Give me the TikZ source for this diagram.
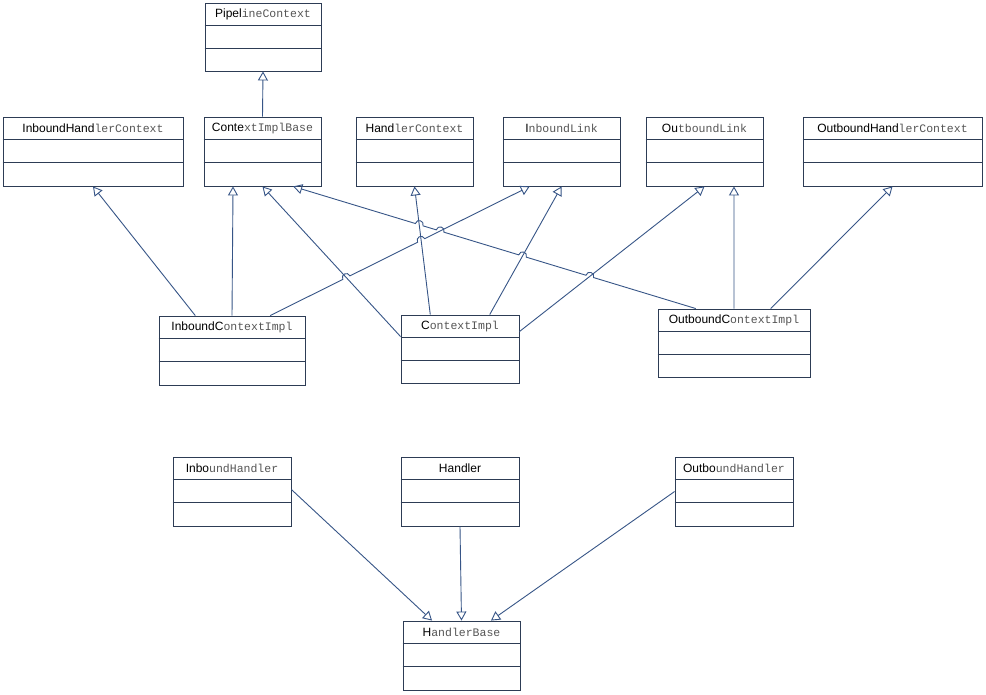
\documentclass[tikz,border=0pt]{standalone}
\usepackage{fontspec}
\newfontfamily\sa{Liberation Sans}
\newfontfamily\mo{Liberation Mono}
\usetikzlibrary{arrows.meta,calc,intersections}
\definecolor{boxc}{RGB}{45,60,85}
\definecolor{conn}{RGB}{55,85,135}
\definecolor{monoc}{RGB}{85,85,85}
\newcommand\ttl[2]{{\sa\fontsize{12}{14}\selectfont #1}{\mo\fontsize{11.5}{14}\selectfont\color{monoc}#2}}
% name, cx, cy, w, h, title
\newcommand\umlclass[6]{%
  \node[cls, minimum width=#4pt, minimum height=#5pt] (#1) at (#2,#3) {};
  \draw[clsline] ($(#1.north west)+(0,22.5)$) -- ($(#1.north east)+(0,22.5)$);
  \draw[clsline] ($(#1.north west)+(0,45.5)$) -- ($(#1.north east)+(0,45.5)$);
  \node[ttlnode] at ($(#1.north)+(0,11.5)$) {#6};
}
% intersection name, from, to
\newcommand\hopat[3]{%
  \coordinate (#1s) at ($(#1)!4pt!(#2)$);
  \coordinate (#1e) at ($(#1)!4pt!(#3)$);
  \coordinate (#1c) at ($(#1s)!5.5pt!90:(#1)$);
  \coordinate (#1d) at ($(#1e)!5.5pt!-90:(#1)$);
}
\begin{document}
\begin{tikzpicture}[x=1pt,y=-1pt,
  cls/.style={draw=boxc, line width=0.9pt, inner sep=0pt, fill=white},
  clsline/.style={draw=boxc, line width=0.9pt},
  ttlnode/.style={inner sep=0pt, anchor=center},
  gen/.style={draw=conn, line width=0.9pt, -{Triangle[open,length=9pt,width=10pt]}},
  genr/.style={draw=conn, line width=0.9pt, {Triangle[open,length=9pt,width=10pt]}-}]
\useasboundingbox[fill=white] (0,0) rectangle (986,694);

\umlclass{pc}{263}{37}{116}{68}{\ttl{Pipel}{ineContext}}
\umlclass{ihc}{93}{151.5}{180}{69}{\ttl{InboundHand}{lerContext}}
\umlclass{cib}{262.5}{151.5}{117}{69}{\ttl{Conte}{xtImplBase}}
\umlclass{hc}{414.5}{151.5}{117}{69}{\ttl{Hand}{lerContext}}
\umlclass{il}{561.5}{151.5}{117}{69}{\ttl{I}{nboundLink}}
\umlclass{ol}{704.5}{151.5}{117}{69}{\ttl{Ou}{tboundLink}}
\umlclass{ohc}{892.5}{151.5}{179}{69}{\ttl{OutboundHand}{lerContext}}
\umlclass{ici}{232}{350.5}{146}{69}{\ttl{InboundC}{ontextImpl}}
\umlclass{ci}{460}{349}{118}{68}{\ttl{C}{ontextImpl}}
\umlclass{oci}{734}{343}{152}{68}{\ttl{OutboundC}{ontextImpl}}
\umlclass{ih}{232}{491.5}{118}{69}{\ttl{Inbo}{undHandler}}
\umlclass{h}{460}{491.5}{118}{69}{\ttl{Handler}{}}
\umlclass{oh}{734}{491.5}{118}{69}{\ttl{Outbo}{undHandler}}
\umlclass{hb}{461.5}{655.5}{117}{69}{\ttl{H}{andlerBase}}

% end points
\coordinate (l4a) at ($(ici.north west)!0.76!(ici.north east)$);
\coordinate (l4b) at ($(il.south west)!0.23!(il.south east)$);
\coordinate (l5a) at ($(ci.north west)+(0,22)$);
\coordinate (l5b) at (cib.south);
\coordinate (l6a) at ($(ci.north west)!0.25!(ci.north east)$);
\coordinate (l6b) at (hc.south);
\coordinate (l7a) at ($(ci.north west)!0.75!(ci.north east)$);
\coordinate (l7b) at (il.south);
\coordinate (l8a) at ($(ci.north east)+(0,17)$);
\coordinate (l8b) at (ol.south);
\coordinate (l9a) at ($(cib.south west)!0.76!(cib.south east)$);
\coordinate (l9b) at ($(oci.north west)!0.25!(oci.north east)$);

\path[name path=p4] (l4a) -- (l4b);
\path[name path=p5] (l5a) -- (l5b);
\path[name path=p6] (l6a) -- (l6b);
\path[name path=p7] (l7a) -- (l7b);
\path[name path=p8] (l8a) -- (l8b);
\path[name path=p9] (l9a) -- (l9b);
\path[name intersections={of=p9 and p6, by=xa}];
\path[name intersections={of=p9 and p4, by=xb}];
\path[name intersections={of=p9 and p7, by=xc}];
\path[name intersections={of=p9 and p8, by=xd}];
\path[name intersections={of=p4 and p5, by=xe}];
\path[name intersections={of=p4 and p6, by=xf}];
\hopat{xa}{l9a}{l9b}
\hopat{xb}{l9a}{l9b}
\hopat{xc}{l9a}{l9b}
\hopat{xd}{l9a}{l9b}
\hopat{xe}{l4a}{l4b}
\hopat{xf}{l4a}{l4b}

% connectors
\draw[gen] (cib.north) -- (pc.south);
\draw[gen] ($(ici.north west)!0.25!(ici.north east)$) -- (ihc.south);
\draw[gen] (ici.north) -- ($(cib.south west)!0.25!(cib.south east)$);
\draw[gen] (l4a) -- (xes) .. controls (xec) and (xed) .. (xee)
  -- (xfs) .. controls (xfc) and (xfd) .. (xfe) -- (l4b);
\draw[gen] (l5a) -- (l5b);
\draw[gen] (l6a) -- (l6b);
\draw[gen] (l7a) -- (l7b);
\draw[gen] (l8a) -- (l8b);
\draw[genr] (l9a) -- (xas) .. controls (xac) and (xad) .. (xae)
  -- (xbs) .. controls (xbc) and (xbd) .. (xbe)
  -- (xcs) .. controls (xcc) and (xcd) .. (xce)
  -- (xds) .. controls (xdc) and (xdd) .. (xde) -- (l9b);
\draw[gen] (oci.north) -- ($(ol.south west)!0.75!(ol.south east)$);
\draw[gen] ($(oci.north west)!0.74!(oci.north east)$) -- (ohc.south);
\draw[gen] ($(ih.north east)+(0,33)$) -- ($(hb.north west)!0.25!(hb.north east)$);
\draw[gen] (h.south) -- (hb.north);
\draw[gen] ($(oh.north west)+(0,35)$) -- ($(hb.north west)!0.75!(hb.north east)$);
\end{tikzpicture}
\end{document}
